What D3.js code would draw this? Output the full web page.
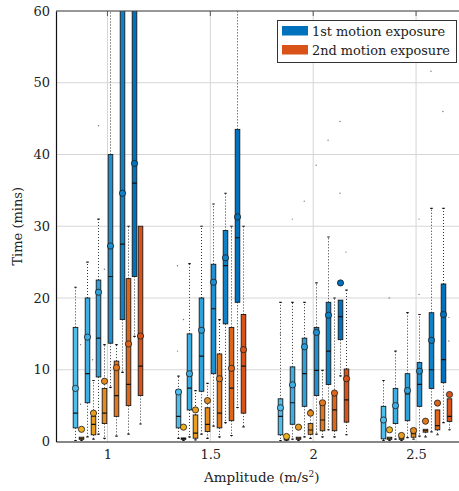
<!DOCTYPE html>
<html><head><meta charset="utf-8">
<script src="https://cdn.jsdelivr.net/npm/d3@7"></script>
<style>
body{margin:0;background:#fff}
svg{display:block}
text{font-family:"DejaVu Serif","Liberation Serif",serif;fill:#222}
</style>
</head><body>
<svg id="chart" width="459" height="491"></svg>
<script>
// ---------------- data ----------------
const amplitudes = [1, 1.5, 2, 2.5];
const yTicks = [0, 10, 20, 30, 40, 50, 60];
const seriesNames = ["1st motion exposure", "2nd motion exposure"];

// 1st motion exposure: rows = amplitude, cols = six sub-groups
const firstQ1     = [[1.9, 5.4, 9.0, 13.7, 17.0, 23.0], [1.9, 4.4, 7.0, 9.45, 16.4, 19.4], [0.93, 2.4, 4.9, 6.4, 7.95, 14.2], [0.37, 2.5, 2.9, 4.9, 7.4, 8.2]];
const firstMedian = [[3.95, 9.45, 14.4, 23.0, 27.5, 36.0], [3.5, 7.45, 11.9, 18.5, 24.5, 28.4], [3.5, 5.4, 9.45, 9.9, 12.6, 17.4], [2.7, 5.0, 6.65, 7.95, 10.0, 11.4]];
const firstQ3     = [[15.9, 20.0, 22.5, 40.0, 75, 80], [7.2, 15.0, 20.0, 24.7, 29.4, 43.5], [5.95, 10.4, 14.4, 15.9, 19.4, 19.7], [4.9, 7.4, 9.45, 11.0, 17.95, 21.95]];
const firstMean   = [[7.4, 14.55, 20.8, 27.25, 34.6, 38.75], [6.9, 9.45, 15.5, 22.2, 25.6, 31.3], [4.7, 7.9, 13.2, 15.2, 17.6, 22.1], [3.0, 5.0, 7.1, 9.8, 14.1, 17.7]];
const firstWhiskerHigh = [[21.5, 25.0, 31.0, 90, 100, 100], [9.1, 24.8, 30.0, 33.1, 34.6, 62], [19.4, 19.4, 19.4, 22.1, 28.5, 19.7], [8.5, 12.6, 17.95, 17.7, 32.5, 32.5]];
const firstWhiskerLow  = [[0, 0.5, 0.9, 7.4, 9.5, 14.5], [0.3, 0.5, 0.9, 2.0, 2.5, 4.6], [0, 0.2, 0.5, 0.9, 1.5, 9.0], [0, 0.2, 0.4, 0.6, 1.2, 2.5]];

// 2nd motion exposure
const secondQ1     = [[0.3, 0.93, 2.5, 3.5, 5.0, 6.4], [0.3, 0.46, 1.4, 1.9, 2.9, 3.95], [0.2, 0.3, 1.0, 1.5, 1.5, 2.7], [0.3, 0.3, 0.6, 1.3, 1.63, 2.8]];
const secondMedian = [[0.45, 2.4, 3.95, 6.4, 7.95, 10.5], [0.4, 1.16, 2.4, 3.95, 7.45, 10.5], [0.3, 0.45, 1.6, 3.0, 4.4, 5.8], [0.45, 0.45, 1.1, 1.5, 2.2, 3.5]];
const secondQ3     = [[0.6, 3.5, 7.4, 11.2, 22.7, 30.0], [0.5, 3.7, 4.7, 12.2, 15.9, 17.7], [0.4, 0.6, 2.5, 5.6, 6.4, 10.1], [0.6, 0.6, 1.8, 1.7, 4.4, 5.95]];
const secondMean   = [[1.7, 3.95, 8.4, 10.3, 13.6, 14.7], [2.0, 4.4, 5.7, 8.75, 10.2, 12.8], [0.7, 2.0, 3.95, 5.4, 6.75, 8.75], [1.63, 0.84, 1.53, 2.83, 5.35, 6.55]];
const secondWhiskerHigh = [[0.6, 8.5, 13.5, 13.5, 30.0, 30.0], [0.5, 7.1, 8.1, 17.0, 30.0, 30.0], [0.4, 0.6, 4.4, 9.9, 20.0, 21.1], [0.6, 0.6, 1.8, 1.7, 4.4, 5.95]];
const secondWhiskerLow  = [[0, 0.2, 0.3, 0.6, 0.9, 2.3], [0, 0.1, 0.3, 0.5, 0.7, 1.9], [0, 0, 0.3, 0.5, 0.5, 0.8], [0, 0, 0.2, 0.5, 0.8, 1.5]];

// outliers: amplitude, slot (0..11, blue/orange alternating), value
const outlierAmp   = [1, 1, 1, 1, 1, 1.5, 1.5, 1.5, 2, 2, 2, 2, 2, 2, 2, 2, 2.5, 2.5, 2.5, 2.5, 2.5, 2.5, 2.5];
const outlierSlot  = [4, 1, 1, 3, 5, 0, 0, 1, 0, 2, 4, 6, 8, 10, 10, 11, 6, 8, 10, 6, 11, 11, 1];
const outlierValue = [44.0, 13.5, 5.2, 11.4, 24.0, 24.5, 12.6, 17.0, 15.0, 31.0, 33.5, 38.5, 42.0, 34.6, 44.6, 26.4, 31.0, 51.6, 46.0, 20.5, 14.0, 17.3, 20.0];

// ---------------- layout ----------------
const svg = d3.select("#chart");
const x = d3.scaleLinear().domain([0.75, 2.75]).range([56, 467.5]);
const y = d3.scaleLinear().domain([0, 60]).range([441.5, 11]);
const slot = d3.scalePoint().domain(d3.range(12)).range([-32.8, 32.8]);
const blueCol = d3.interpolateRgb("#4DBEEE", "#0072BD");
const orangeCol = d3.interpolateRgb("#EDB120", "#D95319");

svg.append("defs").append("clipPath").attr("id", "clip")
  .append("rect").attr("x", x.range()[0]).attr("y", y(60))
  .attr("width", x.range()[1] - x.range()[0]).attr("height", y(0) - y(60));

// grid
const grid = svg.append("g");
grid.selectAll("line.h").data(yTicks.slice(1)).join("line")
  .attr("x1", x.range()[0]).attr("x2", x.range()[1])
  .attr("y1", d => y(d)).attr("y2", d => y(d))
  .attr("stroke", "#d6d6d6").attr("stroke-width", 1);
grid.selectAll("line.v").data(amplitudes).join("line")
  .attr("x1", d => x(d)).attr("x2", d => x(d))
  .attr("y1", y(0)).attr("y2", y(60))
  .attr("stroke", "#d6d6d6").attr("stroke-width", 1);

// build box records
const boxes = [];
amplitudes.forEach((a, ai) => {
  for (let k = 0; k < 6; k++) {
    boxes.push({amp: a, slot: 2 * k, color: blueCol(k / 5),
      q1: firstQ1[ai][k], med: firstMedian[ai][k], q3: firstQ3[ai][k], mean: firstMean[ai][k],
      wh: firstWhiskerHigh[ai][k], wl: firstWhiskerLow[ai][k]});
    boxes.push({amp: a, slot: 2 * k + 1, color: orangeCol(k / 5),
      q1: secondQ1[ai][k], med: secondMedian[ai][k], q3: secondQ3[ai][k], mean: secondMean[ai][k],
      wh: secondWhiskerHigh[ai][k], wl: secondWhiskerLow[ai][k]});
  }
});
const cx = d => Math.round(x(d.amp) + slot(d.slot)) + 0.5;
const bw = 4.6;

const plot = svg.append("g").attr("clip-path", "url(#clip)");

// outliers
plot.selectAll("circle.out").data(outlierValue).join("circle")
  .attr("cx", (d, i) => x(outlierAmp[i]) + slot(outlierSlot[i]))
  .attr("cy", d => y(d)).attr("r", 0.7).attr("fill", "#777");

// whiskers
const wg = plot.append("g");
boxes.forEach(d => {
  const c = cx(d);
  if (d.wh > d.q3) {
    wg.append("line").attr("x1", c).attr("x2", c).attr("y1", y(d.q3)).attr("y2", y(d.wh))
      .attr("stroke", "#333").attr("stroke-width", 1).attr("stroke-dasharray", "1,2");
    wg.append("line").attr("x1", c - 1.2).attr("x2", c + 1.2).attr("y1", y(d.wh)).attr("y2", y(d.wh))
      .attr("stroke", "#111").attr("stroke-width", 1.2);
  }
  if (d.wl < d.q1) {
    wg.append("line").attr("x1", c).attr("x2", c).attr("y1", y(d.q1)).attr("y2", y(d.wl))
      .attr("stroke", "#333").attr("stroke-width", 1).attr("stroke-dasharray", "1,2");
    wg.append("line").attr("x1", c - 1.2).attr("x2", c + 1.2).attr("y1", y(d.wl) - 1).attr("y2", y(d.wl) - 1)
      .attr("stroke", "#111").attr("stroke-width", 1.2);
  }
});

// boxes, medians, means
boxes.forEach(d => {
  const c = cx(d);
  const g = plot.append("g");
  g.append("rect").attr("x", c - bw / 2).attr("y", y(d.q3))
    .attr("width", bw).attr("height", Math.max(1, y(d.q1) - y(d.q3)))
    .attr("fill", d.color).attr("stroke", "#1a1a1a").attr("stroke-width", 0.9);
  g.append("line").attr("x1", c - bw / 2).attr("x2", c + bw / 2)
    .attr("y1", y(d.med)).attr("y2", y(d.med))
    .attr("stroke", "#111").attr("stroke-width", 1.2);
  g.append("circle").attr("cx", c).attr("cy", y(d.mean)).attr("r", 3.1)
    .attr("fill", d.color).attr("stroke", "#1a1a1a").attr("stroke-width", 0.8);
});

// axes frame
svg.append("line").attr("x1", x.range()[0]).attr("x2", x.range()[1]).attr("y1", y(60)).attr("y2", y(60))
  .attr("stroke", "#444").attr("stroke-width", 1);
svg.append("line").attr("x1", x.range()[1]).attr("x2", x.range()[1]).attr("y1", y(60)).attr("y2", y(0))
  .attr("stroke", "#444").attr("stroke-width", 1);

const xAxis = svg.append("g").attr("transform", `translate(0,${y(0)})`)
  .call(d3.axisBottom(x).tickValues(amplitudes).tickFormat(d3.format("")).tickSize(0).tickPadding(8));
xAxis.select(".domain").attr("stroke", "#111").attr("stroke-width", 1.2);
xAxis.selectAll("text").attr("font-size", 13).attr("font-family", "DejaVu Serif").attr("fill", "#222");

const yAxis = svg.append("g").attr("transform", `translate(${x.range()[0]},0)`)
  .call(d3.axisLeft(y).tickValues(yTicks).tickSize(0).tickPadding(6));
yAxis.select(".domain").attr("stroke", "#111").attr("stroke-width", 1.2);
yAxis.selectAll("text").attr("font-size", 13).attr("font-family", "DejaVu Serif").attr("fill", "#222");

// top ticks
svg.selectAll("line.tt").data(amplitudes).join("line")
  .attr("x1", d => x(d)).attr("x2", d => x(d)).attr("y1", y(60)).attr("y2", y(60) + 5)
  .attr("stroke", "#555").attr("stroke-width", 1);

// axis titles
const xt = svg.append("text").attr("x", (x.range()[0] + x.range()[1]) / 2).attr("y", 482)
  .attr("text-anchor", "middle").attr("font-size", 13.5);
xt.append("tspan").text("Amplitude (m/s");
xt.append("tspan").attr("dy", -5).attr("font-size", 9).text("2");
xt.append("tspan").attr("dy", 5).text(")");

svg.append("text").attr("transform", `translate(22,${(y(0) + y(60)) / 2}) rotate(-90)`)
  .attr("text-anchor", "middle").attr("font-size", 13).text("Time (mins)");

// legend
const lg = svg.append("g");
lg.append("rect").attr("x", 277.5).attr("y", 20.5).attr("width", 179).attr("height", 42)
  .attr("fill", "#fff").attr("stroke", "#333").attr("stroke-width", 1);
const legendColors = [blueCol(1), orangeCol(1)];
seriesNames.forEach((n, i) => {
  lg.append("rect").attr("x", 282).attr("y", 26 + i * 19).attr("width", 26).attr("height", 9.5)
    .attr("fill", legendColors[i]);
  lg.append("text").attr("x", 312).attr("y", 35.5 + i * 19).attr("font-size", 12.9).text(n);
});
</script>
</body></html>
